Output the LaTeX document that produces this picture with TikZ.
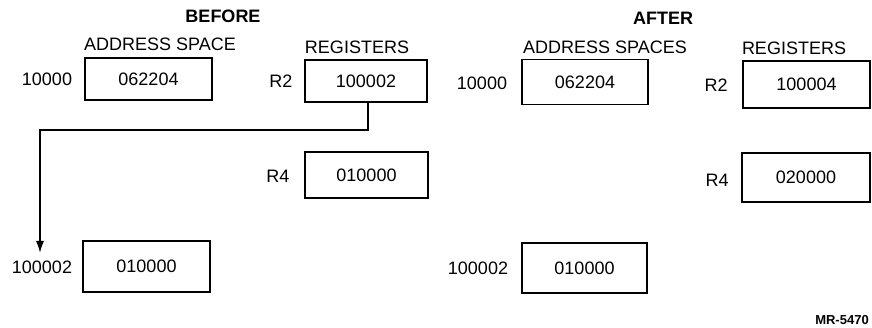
\documentclass[tikz,border=0pt]{standalone}
\usepackage{fontspec}
\setmainfont{Liberation Sans}
\usetikzlibrary{arrows.meta}
\begin{document}
\begin{tikzpicture}[x=1pt,y=-1pt,
  cell/.style={draw,line width=1.8pt,inner sep=0pt,font=\fontsize{18}{21}\selectfont},
  lbl/.style={inner sep=0pt,font=\fontsize{18}{21}\selectfont},
  head/.style={inner sep=0pt,font=\fontsize{18}{21}\selectfont\bfseries},
  conn/.style={line width=1.6pt,-{Latex[length=12pt,width=8pt]}}]
\useasboundingbox (0,0) rectangle (872,328);
% BEFORE
\node[head] (bef) at (223,16) {BEFORE};
\node[lbl] (basp) at (160,44) {ADDRESS SPACE};
\node[lbl] (breg) at (357,47) {REGISTERS};
\node[cell,minimum width=127pt,minimum height=42pt] (ba1) at (148.5,79) {062204};
\node[lbl] (ba1l) at (47,79) {10000};
\node[cell,minimum width=122pt,minimum height=42pt] (br2) at (366,81) {100002};
\node[lbl] (br2l) at (281,81) {R2};
\node[cell,minimum width=123pt,minimum height=46pt] (br4) at (366.5,175) {010000};
\node[lbl] (br4l) at (278,176) {R4};
\node[cell,minimum width=127pt,minimum height=51pt] (ba2) at (146.5,266.5) {010000};
\node[lbl] (ba2l) at (42,267) {100002};
\coordinate (bend) at (40,130);
\coordinate (tip) at (40,253);
\draw[conn] (br2.south -| 368,0) |- (bend) -- (tip);
% AFTER
\node[head] (aft) at (663,18) {AFTER};
\node[lbl] (aasp) at (605,47) {ADDRESS SPACES};
\node[lbl] (areg) at (794,48) {REGISTERS};
\node[cell,minimum width=126pt,minimum height=45pt] (aa1) at (585,82) {062204};
\node[lbl] (aa1l) at (482,83) {10000};
\node[cell,minimum width=127pt,minimum height=47pt] (ar2) at (806.5,84.5) {100004};
\node[lbl] (ar2l) at (716,85) {R2};
\node[cell,minimum width=128pt,minimum height=49pt] (ar4) at (806,177.5) {020000};
\node[lbl] (ar4l) at (717,180) {R4};
\node[cell,minimum width=125pt,minimum height=50pt] (aa2) at (584.5,268) {010000};
\node[lbl] (aa2l) at (478,268) {100002};
\node[inner sep=0pt,font=\fontsize{13}{15}\selectfont\bfseries] (mr) at (842,320) {MR-5470};
\end{tikzpicture}
\end{document}
